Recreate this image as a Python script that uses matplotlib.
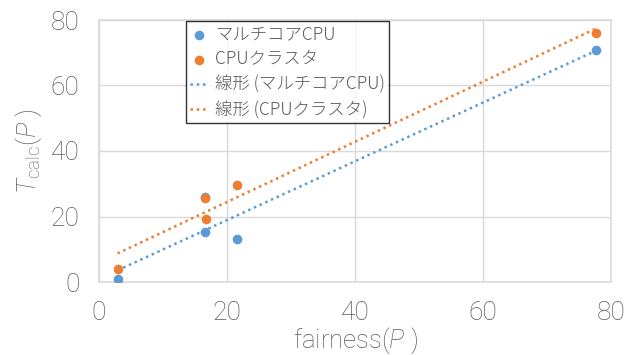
import matplotlib
matplotlib.use("Agg")
import matplotlib.pyplot as plt
import numpy as np

# data
multi_x = [2.9, 16.5, 16.6, 21.6, 77.7]
multi_y = [1.0, 26.0, 15.4, 13.1, 70.7]
cluster_x = [2.9, 16.5, 16.7, 21.6, 77.7]
cluster_y = [4.1, 25.6, 19.2, 29.7, 76.1]
labels = ["マルチコアCPU", "CPUクラスタ"]
trend_labels = ["線形 (マルチコアCPU)", "線形 (CPUクラスタ)"]
ticks = [0, 20, 40, 60, 80]

BLUE = "#5B9BD5"
ORANGE = "#ED7D31"
GREY = "#595959"
GRID = "#D9D9D9"

plt.rcParams["font.family"] = ["Roboto", "Noto Sans CJK JP", "DejaVu Sans"]
plt.rcParams["font.weight"] = "light"
plt.rcParams["axes.labelweight"] = "light"
plt.rcParams["mathtext.fontset"] = "custom"
plt.rcParams["mathtext.rm"] = "Roboto:light"
plt.rcParams["mathtext.it"] = "Roboto:italic:light"

fig = plt.figure(figsize=(6.36, 3.55), dpi=100)
ax = fig.add_axes([99 / 636, 1 - 282 / 355, 512 / 636, 262 / 355])

pts = []
lines = []
for xs, ys, col, lab, tlab in zip(
    [multi_x, cluster_x], [multi_y, cluster_y], [BLUE, ORANGE], labels, trend_labels
):
    xs = np.array(xs)
    ys = np.array(ys)
    p = ax.scatter(xs, ys, s=48, color=col, label=lab, zorder=3, linewidths=0)
    # linear trendline (least squares), like the spreadsheet's "線形" line
    k, b = np.polyfit(xs, ys, 1)
    xx = np.array([xs.min(), xs.max()])
    (ln,) = ax.plot(xx, k * xx + b, color=col, lw=1.8,
                    linestyle=(0, (1, 1.5)), label=tlab, zorder=2)
    pts.append(p)
    lines.append(ln)

ax.set_xlim(0, 80)
ax.set_ylim(0, 80)
ax.set_xticks(ticks)
ax.set_yticks(ticks)
ax.grid(True, color=GRID, lw=1)
ax.set_axisbelow(True)
for s in ax.spines.values():
    s.set_color(GRID)
    s.set_linewidth(1.2)
ax.tick_params(length=0, labelsize=19, labelcolor=GREY)
ax.tick_params(axis="y", pad=14)
ax.tick_params(axis="x", pad=14)

ax.set_xlabel(r"fairness($P$ )", fontsize=18.5, color=GREY, fontweight="light")
ax.xaxis.set_label_coords(0.5, -0.165)
ax.set_ylabel(r"$T_{\mathrm{calc}}$($P$ )", fontsize=19, color=GREY,
              fontweight="light")
ax.yaxis.set_label_coords(-0.108, 0.5)

leg = ax.legend(handles=pts + lines, labels=labels + trend_labels,
                loc="upper left", bbox_to_anchor=(0.17, 0.995),
                prop={"family": ["Noto Sans CJK JP", "DejaVu Sans"], "size": 12.5},
                frameon=True, fancybox=False,
                handlelength=1.0, handletextpad=0.4, borderpad=0.25,
                labelspacing=0.4, labelcolor=GREY, borderaxespad=0)
leg.get_frame().set_edgecolor("black")
leg.get_frame().set_linewidth(1.0)

fig.savefig("out.png", dpi=100)
